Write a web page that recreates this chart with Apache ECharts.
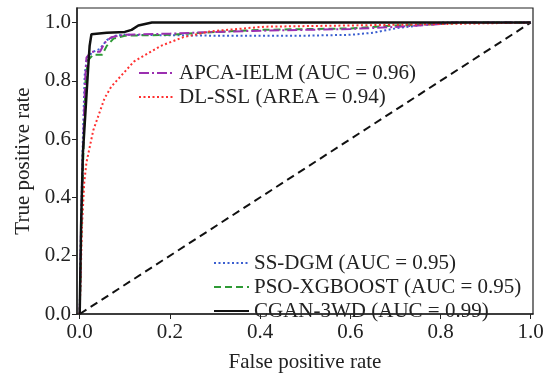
<!DOCTYPE html>
<html>
<head>
<meta charset="utf-8">
<script src="https://cdn.jsdelivr.net/npm/echarts@6/dist/echarts.min.js"></script>
<style>
  html, body { margin: 0; padding: 0; background: #fff; }
  #roc { width: 551px; height: 378px; }
</style>
</head>
<body>
<div id="roc"></div>
<script>
// tick labels
const xTicks = [0, 0.2, 0.4, 0.6, 0.8, 1.0];
const yTicks = [0, 0.2, 0.4, 0.6, 0.8, 1.0];

// series names
const names = [
  'APCA-IELM (AUC = 0.96)',
  'DL-SSL (AREA = 0.94)',
  'SS-DGM (AUC = 0.95)',
  'PSO-XGBOOST (AUC = 0.95)',
  'CGAN-3WD (AUC = 0.99)'
];

// [fpr, tpr]
const apcaIelm = [[0, 0], [0.003, 0.3], [0.008, 0.6], [0.012, 0.8], [0.015, 0.88], [0.025, 0.9], [0.045, 0.9],
  [0.055, 0.93], [0.07, 0.95], [0.1, 0.958], [0.2, 0.962], [0.3, 0.968], [0.4, 0.972], [0.6, 0.978],
  [0.7, 0.985], [0.8, 0.995], [0.83, 1.0], [1, 1]];
const dlSsl = [[0, 0], [0.005, 0.3], [0.01, 0.45], [0.015, 0.52], [0.03, 0.63], [0.055, 0.74], [0.07, 0.78],
  [0.12, 0.866], [0.18, 0.92], [0.23, 0.95], [0.29, 0.97], [0.41, 0.986], [0.6, 0.99], [0.8, 0.995], [1, 1]];
const ssDgm = [[0, 0], [0.003, 0.3], [0.007, 0.6], [0.011, 0.82], [0.016, 0.88], [0.03, 0.9], [0.045, 0.91],
  [0.06, 0.94], [0.08, 0.955], [0.1, 0.958], [0.3, 0.955], [0.5, 0.955], [0.6, 0.958], [0.65, 0.965],
  [0.7, 0.98], [0.75, 0.99], [0.8, 1.0], [1, 1]];
const psoXgboost = [[0, 0], [0.004, 0.3], [0.009, 0.6], [0.013, 0.8], [0.018, 0.87], [0.03, 0.89], [0.05, 0.89],
  [0.06, 0.92], [0.075, 0.945], [0.1, 0.955], [0.2, 0.958], [0.3, 0.968], [0.4, 0.975], [0.6, 0.98],
  [0.7, 0.99], [0.8, 0.995], [0.85, 1], [1, 1]];
const cgan3wd = [[0, 0], [0.003, 0.3], [0.007, 0.55], [0.011, 0.65], [0.015, 0.75], [0.019, 0.85], [0.022, 0.92],
  [0.026, 0.96], [0.06, 0.965], [0.1, 0.968], [0.115, 0.975], [0.13, 0.99], [0.16, 1.0], [1, 1]];
const chance = [[0, 0], [1, 1]];

const font = 'Liberation Serif';

const myChart = echarts.init(document.getElementById('roc'));

const lineSeries = (name, data, color, type, width) => ({
  name: name,
  type: 'line',
  data: data,
  symbol: 'none',
  silent: true,
  animation: false,
  lineStyle: { color: color, width: width, type: type, cap: 'butt' },
  itemStyle: { color: color }
});

const legendBase = {
  orient: 'vertical',
  itemWidth: 35,
  itemHeight: 12,
  itemGap: 0,
  padding: 0,
  selectedMode: false,
  itemStyle: { opacity: 0 },
  textStyle: { fontFamily: font, fontSize: 21, color: '#222', lineHeight: 24 }
};

const option = {
  backgroundColor: '#fff',
  animation: false,
  grid: {
    left: 77, right: 18, top: 8, bottom: 56,
    show: true, borderColor: '#222', borderWidth: 1.2
  },
  legend: [
    Object.assign({ left: 138, top: 61, data: [names[0], names[1]] }, legendBase),
    Object.assign({ left: 213, top: 251, data: [names[2], names[3], names[4]] }, legendBase)
  ],
  xAxis: {
    type: 'value',
    min: -0.006,
    max: 1.005,
    name: 'False positive rate',
    nameLocation: 'middle',
    nameGap: 38,
    nameTextStyle: { fontFamily: font, fontSize: 21, color: '#222' },
    axisLine: { show: true, onZero: false, lineStyle: { color: '#222', width: 1.5 } },
    axisTick: { show: true, inside: false, length: 5, customValues: xTicks, lineStyle: { color: '#222' } },
    axisLabel: {
      customValues: xTicks, margin: 8, fontFamily: font, fontSize: 21, color: '#222',
      formatter: v => v.toFixed(1)
    },
    splitLine: { show: false }
  },
  yAxis: {
    type: 'value',
    min: 0,
    max: 1.05,
    name: 'True positive rate',
    nameLocation: 'middle',
    nameGap: 39,
    nameTextStyle: { fontFamily: font, fontSize: 21, color: '#222' },
    axisLine: { show: true, onZero: false, lineStyle: { color: '#222', width: 1.5 } },
    axisTick: { show: true, inside: false, length: 5, customValues: yTicks, lineStyle: { color: '#222' } },
    axisLabel: {
      customValues: yTicks, margin: 6, fontFamily: font, fontSize: 21, color: '#222',
      formatter: v => v.toFixed(1)
    },
    splitLine: { show: false }
  },
  series: [
    lineSeries('chance', chance, '#111', [8, 5], 2),
    lineSeries(names[2], ssDgm, '#3b5fd0', [2, 2.5], 2),
    lineSeries(names[3], psoXgboost, '#2e9a35', [7, 4], 2),
    lineSeries(names[0], apcaIelm, '#9b2fb0', [10, 3, 2, 3], 2),
    lineSeries(names[1], dlSsl, '#ff3030', [2, 2.5], 2),
    lineSeries(names[4], cgan3wd, '#111', 'solid', 2.5)
  ]
};

option && myChart.setOption(option);
</script>
</body>
</html>
